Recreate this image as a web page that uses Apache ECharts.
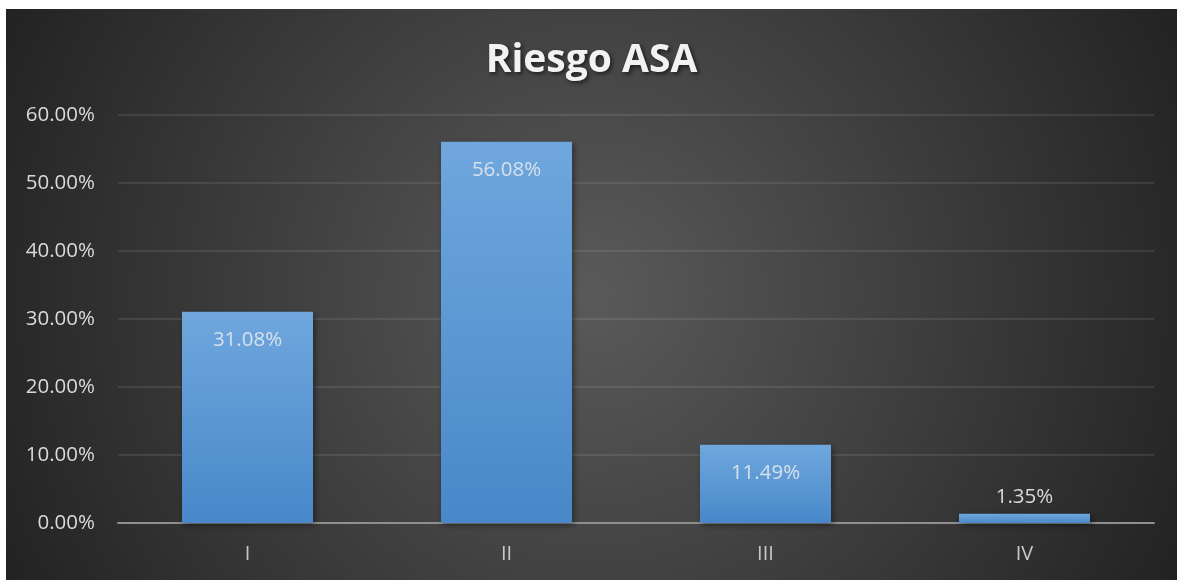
<!DOCTYPE html>
<html>
<head>
<meta charset="utf-8">
<script src="https://cdn.jsdelivr.net/npm/echarts@6/dist/echarts.min.js"></script>
<style>
  html, body { margin: 0; padding: 0; background: #ffffff; }
  #chart { position: absolute; left: 6px; top: 9px; width: 1171px; height: 571px; }
</style>
</head>
<body>
<div id="chart"></div>
<script>
// ASA physical status classes and their share of patients (%)
const categories = ['I', 'II', 'III', 'IV'];
const shares = [31.08, 56.08, 11.49, 1.35];
const yTicks = [0, 10, 20, 30, 40, 50, 60];

const chart = echarts.init(document.getElementById('chart'));

const barFill = {
  type: 'linear', x: 0, y: 0, x2: 0, y2: 1,
  colorStops: [
    { offset: 0, color: '#6fa7dd' },
    { offset: 1, color: '#4888c9' }
  ]
};

chart.setOption({
  backgroundColor: {
    type: 'radial', x: 0.5, y: 0.5, r: 1.15,
    colorStops: [
      { offset: 0, color: '#5a5a5a' },
      { offset: 1, color: '#222222' }
    ]
  },
  title: {
    text: 'Riesgo ASA',
    left: 'center',
    top: 27,
    textStyle: {
      fontFamily: 'Open Sans',
      fontWeight: 'bold',
      fontSize: 39,
      color: '#f2f2f2',
      textShadowColor: 'rgba(0,0,0,0.6)',
      textShadowBlur: 4,
      textShadowOffsetX: 2,
      textShadowOffsetY: 2
    }
  },
  grid: { left: 112, right: 23, top: 106, bottom: 57 },
  xAxis: {
    type: 'category',
    data: categories,
    axisLine: { lineStyle: { color: '#8f8f8f', width: 2 } },
    axisTick: { show: false },
    axisLabel: { color: '#c8c8c8', fontSize: 20, fontFamily: 'Open Sans', margin: 21 }
  },
  yAxis: {
    type: 'value',
    min: yTicks[0],
    max: yTicks[yTicks.length - 1],
    interval: yTicks[1] - yTicks[0],
    axisLine: { show: false },
    axisTick: { show: false },
    splitLine: { lineStyle: { color: 'rgba(255,255,255,0.09)', width: 2 } },
    axisLabel: {
      color: '#d9d9d9', fontSize: 20.5, fontFamily: 'Open Sans', margin: 23,
      formatter: v => v.toFixed(2) + '%'
    }
  },
  series: [{
    type: 'bar',
    barWidth: 131,
    data: shares.map(v => ({
      value: v,
      label: v > 5
        ? { position: 'insideTop', distance: 18, color: '#d6e0ec' }
        : { position: 'top', distance: 6, color: '#d9d9d9' }
    })),
    itemStyle: {
      color: barFill,
      shadowColor: 'rgba(0,0,0,0.45)',
      shadowBlur: 6,
      shadowOffsetX: 2,
      shadowOffsetY: 2
    },
    label: {
      show: true,
      fontSize: 20.5,
      fontFamily: 'Open Sans',
      formatter: p => p.value.toFixed(2) + '%'
    }
  }]
});
</script>
</body>
</html>
